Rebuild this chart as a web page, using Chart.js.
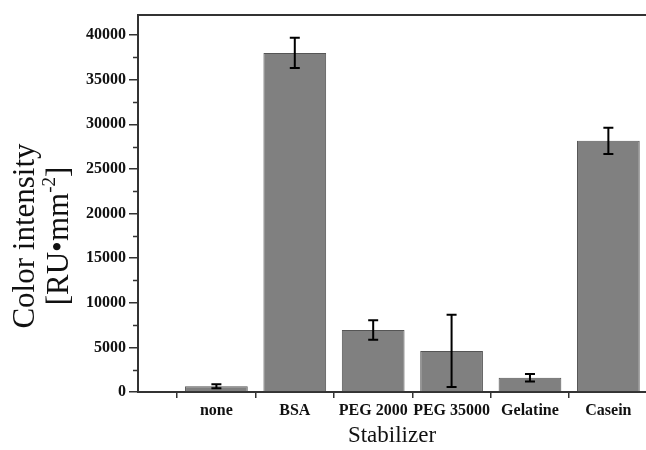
<!DOCTYPE html>
<html>
<head>
<meta charset="utf-8">
<script src="https://cdn.jsdelivr.net/npm/chart.js@4.4.1/dist/chart.umd.min.js"></script>
<style>
  html, body { margin: 0; padding: 0; background: #fff; }
  #wrap { width: 646px; height: 450px; position: relative; }
</style>
</head>
<body>
<div id="wrap"><canvas id="c" width="646" height="450"></canvas></div>
<script>
const categories = ['none', 'BSA', 'PEG 2000', 'PEG 35000', 'Gelatine', 'Casein'];
const values = [650, 38000, 6950, 4600, 1600, 28150];
const errors = [220, 1700, 1100, 4050, 420, 1470];
const yTicks = [0, 5000, 10000, 15000, 20000, 25000, 30000, 35000, 40000];
const yTitleLine1 = 'Color intensity';
const yTitleLine2 = ['[RU\u2022mm', '-2', ']'];
const xTitle = 'Stabilizer';

const serif = '"Liberation Serif", "DejaVu Serif", serif';

const errorBarPlugin = {
  id: 'errorBars',
  afterDatasetsDraw(chart) {
    const ctx = chart.ctx;
    const xs = chart.scales.x, ys = chart.scales.y;
    ctx.save();
    ctx.strokeStyle = '#000';
    ctx.lineWidth = 2;
    values.forEach((v, i) => {
      const x = xs.getPixelForValue(i);
      const top = ys.getPixelForValue(v + errors[i]);
      const bot = ys.getPixelForValue(v - errors[i]);
      ctx.beginPath();
      ctx.moveTo(x, top); ctx.lineTo(x, bot);
      ctx.moveTo(x - 5, top); ctx.lineTo(x + 5, top);
      ctx.moveTo(x - 5, bot); ctx.lineTo(x + 5, bot);
      ctx.stroke();
    });
    ctx.restore();
  }
};

const framePlugin = {
  id: 'frame',
  afterDraw(chart) {
    const ctx = chart.ctx;
    const a = chart.chartArea;
    const ys = chart.scales.y;
    ctx.save();
    ctx.strokeStyle = '#333';
    ctx.lineWidth = 2;
    ctx.beginPath();
    ctx.moveTo(a.left - 1, a.top);
    ctx.lineTo(a.right, a.top);
    ctx.stroke();
    // minor ticks on y axis
    ctx.lineWidth = 1.5;
    ctx.beginPath();
    for (let i = 0; i < yTicks.length; i++) {
      const mv = yTicks[i] + 2500;
      if (mv > ys.max) break;
      const y = Math.round(ys.getPixelForValue(mv)) + 0.5;
      ctx.moveTo(a.left - 5, y);
      ctx.lineTo(a.left, y);
    }
    ctx.stroke();

    // y axis title (two lines, rotated, with superscript)
    const cy = 236;
    ctx.fillStyle = '#111';
    ctx.translate(0, cy);
    ctx.rotate(-Math.PI / 2);
    ctx.textBaseline = 'alphabetic';
    ctx.textAlign = 'center';
    ctx.font = '31px ' + serif;
    ctx.fillText(yTitleLine1, 0, 34);
    // second line
    const big = '31px ' + serif, small = '19px ' + serif;
    ctx.textAlign = 'left';
    ctx.font = big; const w1 = ctx.measureText(yTitleLine2[0]).width;
    ctx.font = small; const w2 = ctx.measureText(yTitleLine2[1]).width;
    ctx.font = big; const w3 = ctx.measureText(yTitleLine2[2]).width;
    let sx = -(w1 + w2 + w3) / 2;
    const base2 = 68;
    ctx.font = big; ctx.fillText(yTitleLine2[0], sx, base2); sx += w1;
    ctx.font = small; ctx.fillText(yTitleLine2[1], sx, base2 - 13); sx += w2;
    ctx.font = big; ctx.fillText(yTitleLine2[2], sx, base2);
    ctx.restore();
  }
};

new Chart(document.getElementById('c'), {
  type: 'bar',
  data: {
    datasets: [{
      data: values.map((v, i) => ({ x: i, y: v })),
      backgroundColor: '#808080',
      borderColor: '#555555',
      borderWidth: 1,
      barPercentage: 0.8,
      categoryPercentage: 1.0
    }]
  },
  options: {
    responsive: false,
    animation: false,
    layout: { padding: { top: 15, right: 0, left: 0, bottom: 0 } },
    plugins: { legend: { display: false }, tooltip: { enabled: false } },
    scales: {
      x: {
        type: 'linear',
        offset: false,
        min: -1,
        max: 5.48,
        afterBuildTicks(scale) {
          scale.ticks = [-1, 0, 1, 2, 3, 4, 5].map(v => ({ value: v }));
        },
        afterFit(scale) { scale.height = 58; },
        ticks: {
          autoSkip: false,
          maxRotation: 0,
          padding: 3,
          color: '#111',
          font: { family: serif, size: 16, weight: 'bold' },
          callback: (v) => (v >= 0 && v < categories.length ? categories[v] : '')
        },
        grid: {
          drawOnChartArea: false,
          drawTicks: true,
          tickLength: 6,
          tickColor: '#333',
          lineWidth: 1.5
        },
        border: { display: true, color: '#333', width: 2 },
        title: {
          display: true,
          text: xTitle,
          color: '#111',
          font: { family: serif, size: 23 },
          padding: { top: 0, bottom: 0 }
        }
      },
      y: {
        min: 0,
        max: 42250,
        afterBuildTicks(scale) {
          scale.ticks = yTicks.map(v => ({ value: v }));
        },
        afterFit(scale) { scale.width = 138; },
        ticks: {
          padding: 3,
          color: '#111',
          font: { family: serif, size: 16, weight: 'bold' },
          callback: (v) => String(v)
        },
        grid: {
          drawOnChartArea: false,
          drawTicks: true,
          tickLength: 9,
          tickColor: '#333',
          lineWidth: 1.5
        },
        border: { display: true, color: '#333', width: 2 },
        title: { display: false }
      }
    }
  },
  plugins: [errorBarPlugin, framePlugin]
});
</script>
</body>
</html>
